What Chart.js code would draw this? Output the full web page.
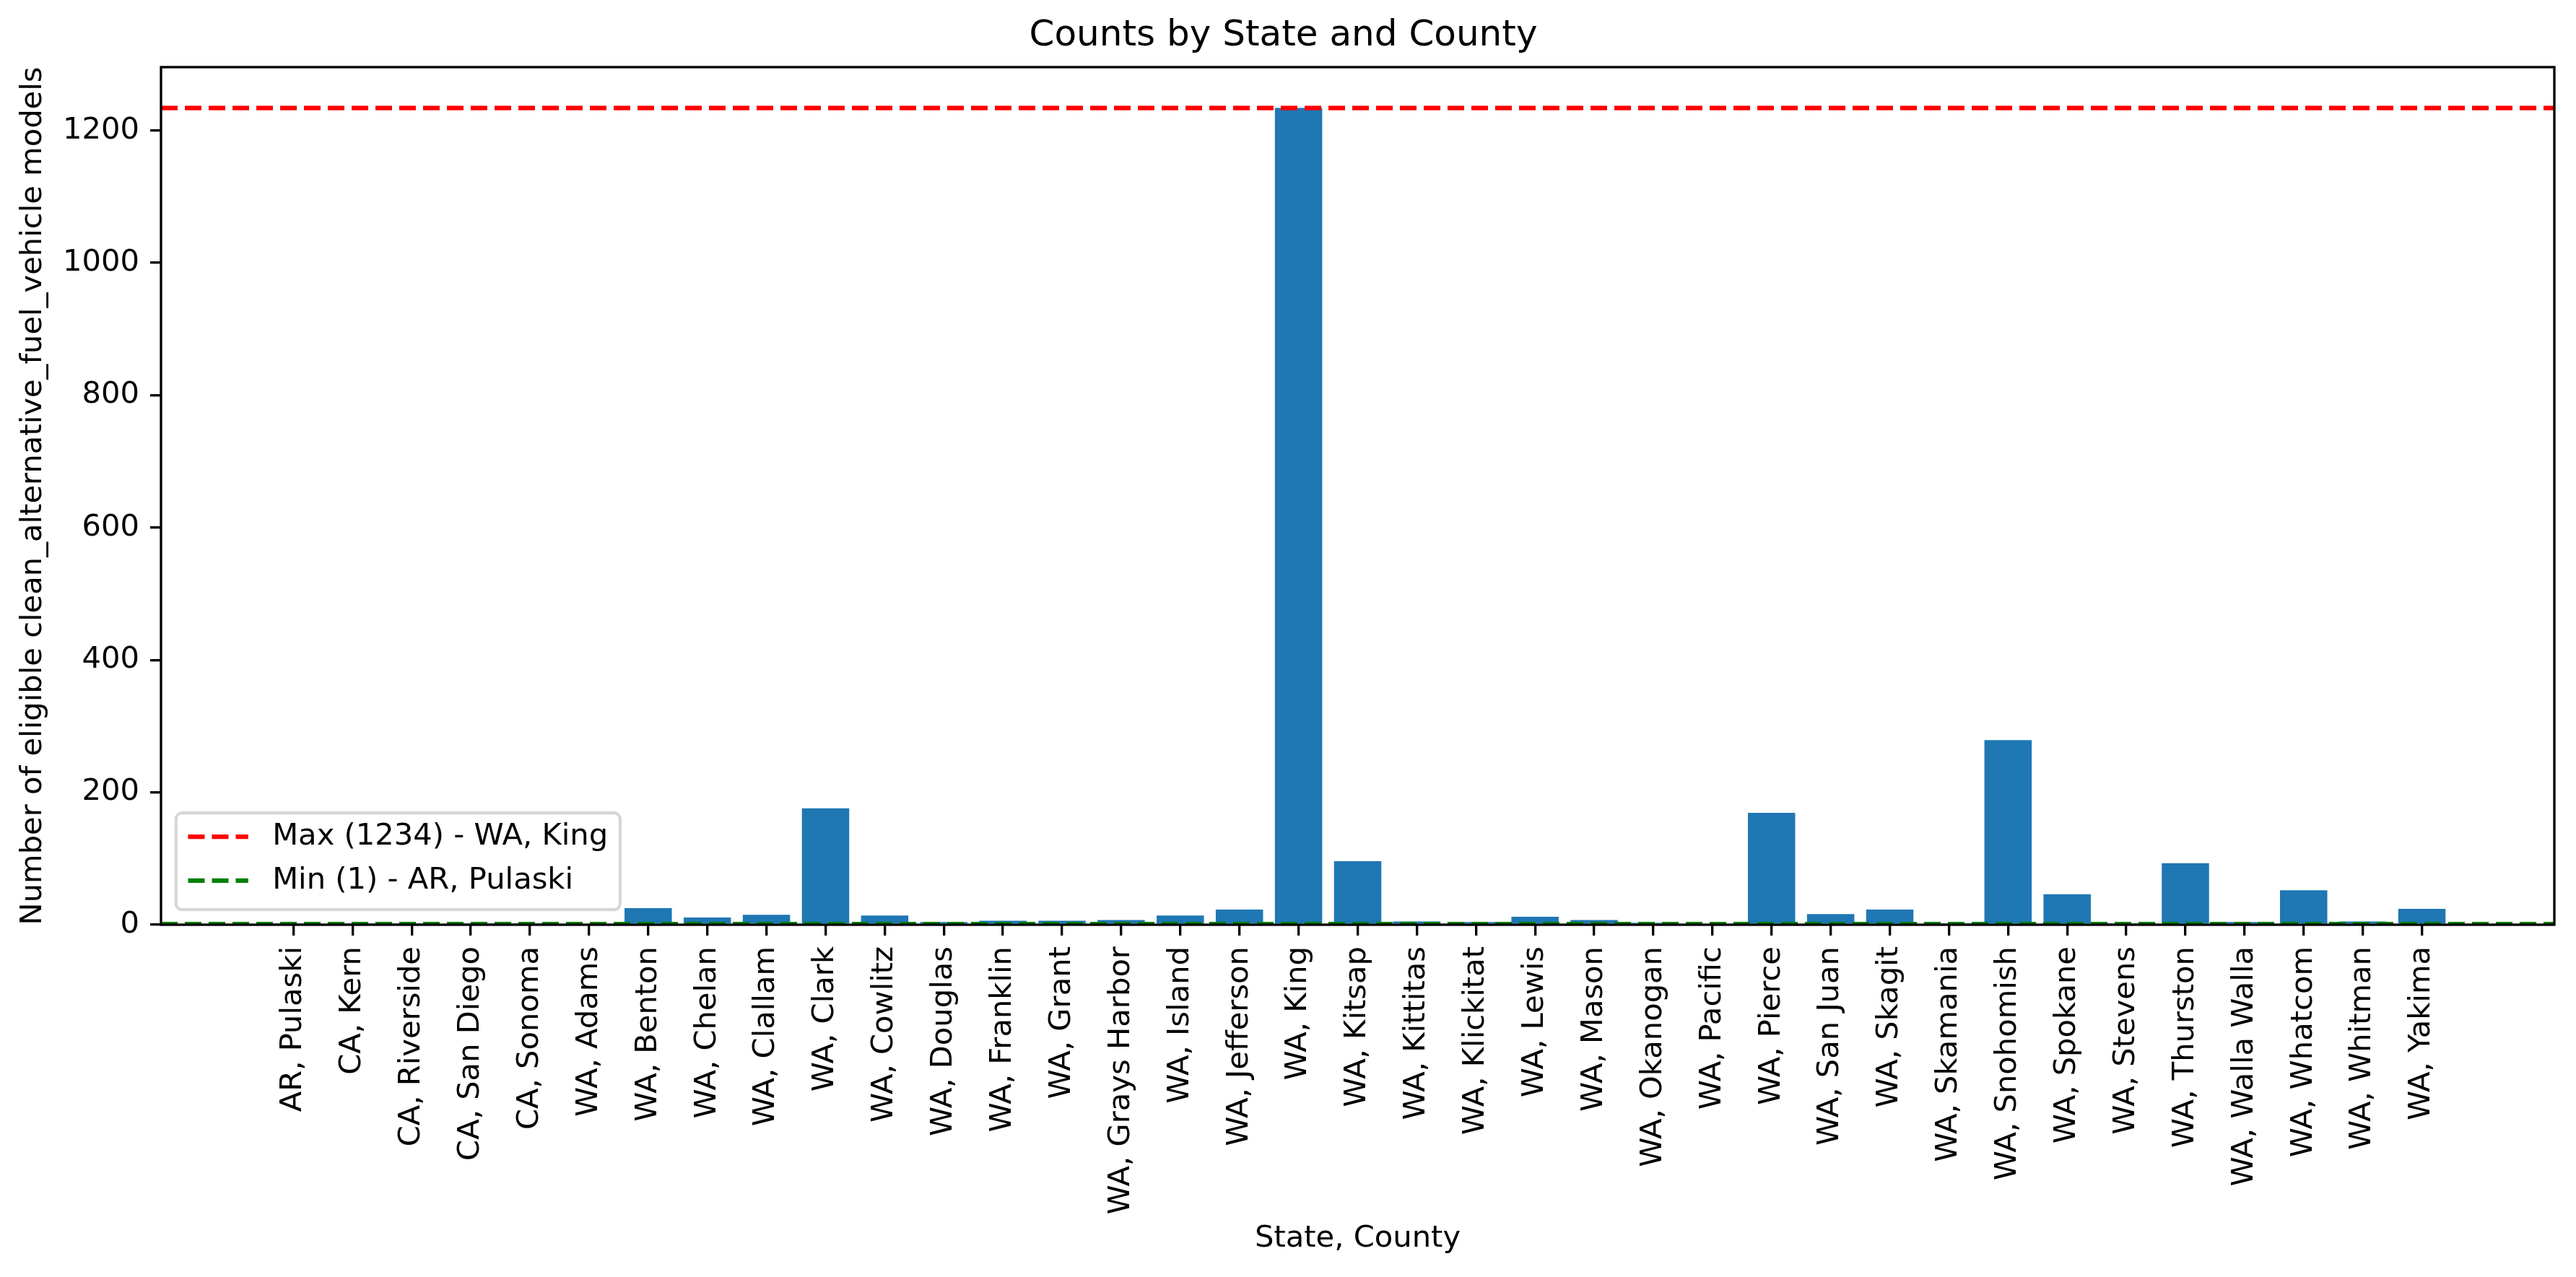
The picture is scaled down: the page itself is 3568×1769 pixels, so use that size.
<!DOCTYPE html>
<html>
<head>
<meta charset="utf-8">
<title>Counts by State and County</title>
<script src="https://cdn.jsdelivr.net/npm/chart.js@4.4.1/dist/chart.umd.min.js"></script>
<style>
  html, body { margin: 0; padding: 0; background: #fff; }
</style>
</head>
<body>
<canvas id="chart" width="3568" height="1769"></canvas>
<script>
// data
const counties = [
  "AR, Pulaski", "CA, Kern", "CA, Riverside", "CA, San Diego", "CA, Sonoma",
  "WA, Adams", "WA, Benton", "WA, Chelan", "WA, Clallam", "WA, Clark",
  "WA, Cowlitz", "WA, Douglas", "WA, Franklin", "WA, Grant", "WA, Grays Harbor",
  "WA, Island", "WA, Jefferson", "WA, King", "WA, Kitsap", "WA, Kittitas",
  "WA, Klickitat", "WA, Lewis", "WA, Mason", "WA, Okanogan", "WA, Pacific",
  "WA, Pierce", "WA, San Juan", "WA, Skagit", "WA, Skamania", "WA, Snohomish",
  "WA, Spokane", "WA, Stevens", "WA, Thurston", "WA, Walla Walla", "WA, Whatcom",
  "WA, Whitman", "WA, Yakima"
];
const counts = [
  1, 1, 1, 1, 1,
  2, 25, 11, 15, 176,
  14, 4, 6, 6, 7,
  14, 23, 1234, 96, 5,
  4, 12, 7, 3, 2,
  169, 16, 23, 1, 279,
  46, 1, 93, 4, 52,
  5, 24
];
const yTicks = [0, 200, 400, 600, 800, 1000, 1200];

const titleText = "Counts by State and County";
const xTitle = "State, County";
const yTitle = "Number of eligible clean_alternative_fuel_vehicle models";

const FONT = "'DejaVu Sans', sans-serif";
const PT = 300 / 72; // figure was saved at 300 dpi

const maxVal = Math.max(...counts);
const minVal = Math.min(...counts);
const maxIdx = counts.indexOf(maxVal);
const minIdx = counts.indexOf(minVal);

// matplotlib-like limits: 5% margin around bars of width 0.8
const barW = 0.8;
const span = counts.length - 1 + barW;
const xMin = -barW / 2 - 0.05 * span;
const xMax = counts.length - 1 + barW / 2 + 0.05 * span;
const yMax = maxVal * 1.05;

const frame = {
  id: "frame",
  afterDatasetsDraw(chart) {
    const { ctx, chartArea: a } = chart;
    ctx.save();
    ctx.strokeStyle = "#000";
    ctx.lineWidth = 0.8 * PT;
    ctx.strokeRect(a.left, a.top, a.right - a.left, a.bottom - a.top);
    ctx.restore();
  }
};

const legendBox = {
  id: "legendBox",
  afterDraw(chart) {
    const { ctx, chartArea: a } = chart;
    const items = chart.data.datasets.filter((d) => d.inLegend);
    const fs = 10 * PT;
    const pad = 0.4 * fs, handle = 2 * fs, gap = 0.8 * fs, rowH = 60.7;
    ctx.save();
    ctx.font = `${fs}px ${FONT}`;
    const textW = Math.max(...items.map((d) => ctx.measureText(d.label).width));
    const w = pad * 2 + handle + gap + textW;
    const h = 134;
    const x = a.left + 0.5 * fs;
    const y = a.bottom - 0.5 * fs - h;
    ctx.beginPath();
    ctx.roundRect(x, y, w, h, 0.2 * fs);
    ctx.fillStyle = "rgba(255,255,255,0.8)";
    ctx.fill();
    ctx.lineWidth = 1 * PT;
    ctx.strokeStyle = "rgba(204,204,204,0.8)";
    ctx.stroke();
    items.forEach((d, i) => {
      const cy = y + 33 + i * rowH;
      ctx.beginPath();
      ctx.setLineDash(d.borderDash);
      ctx.lineWidth = d.borderWidth;
      ctx.strokeStyle = d.borderColor;
      ctx.moveTo(x + pad, cy);
      ctx.lineTo(x + pad + handle, cy);
      ctx.stroke();
      ctx.setLineDash([]);
      ctx.fillStyle = "#000";
      ctx.textBaseline = "middle";
      ctx.textAlign = "left";
      ctx.fillText(d.label, x + pad + handle + gap, cy);
    });
    ctx.restore();
  }
};

new Chart(document.getElementById("chart"), {
  type: "bar",
  data: {
    datasets: [
      {
        type: "line",
        label: `Max (${maxVal}) - ${counties[maxIdx]}`,
        data: [{ x: xMin, y: maxVal }, { x: xMax, y: maxVal }],
        borderColor: "#ff0000",
        borderWidth: 1.5 * PT,
        borderDash: [23, 10],
        pointRadius: 0,
        inLegend: true,
        order: 0
      },
      {
        type: "line",
        label: `Min (${minVal}) - ${counties[minIdx]}`,
        data: [{ x: xMin, y: minVal }, { x: xMax, y: minVal }],
        borderColor: "#008000",
        borderWidth: 1.5 * PT,
        borderDash: [23, 10],
        pointRadius: 0,
        inLegend: true,
        order: 0
      },
      {
        label: "Counts",
        data: counts.map((v, i) => ({ x: i, y: v })),
        backgroundColor: "#1f77b4",
        borderWidth: 0,
        barPercentage: barW,
        categoryPercentage: 1,
        order: 1
      }
    ]
  },
  options: {
    responsive: false,
    animation: false,
    devicePixelRatio: 1,
    layout: { padding: { left: 17, right: 30, top: 0, bottom: 24 } },
    plugins: {
      legend: { display: false },
      tooltip: { enabled: false },
      title: {
        display: true,
        text: titleText,
        color: "#000",
        font: { family: FONT, size: 12 * PT, weight: "normal" },
        padding: { top: 20, bottom: 13 }
      }
    },
    scales: {
      x: {
        type: "linear",
        min: xMin,
        max: xMax,
        offset: false,
        afterBuildTicks: (s) => {
          s.ticks = counties.map((_, i) => ({ value: i }));
        },
        afterFit: (s) => {
          s.height = 464;
        },
        ticks: {
          autoSkip: false,
          minRotation: 90,
          maxRotation: 90,
          padding: 15,
          color: "#000",
          font: { family: FONT, size: 10 * PT },
          callback: (v) => counties[v]
        },
        grid: {
          offset: false,
          drawOnChartArea: false,
          drawTicks: true,
          tickLength: 15,
          lineWidth: 0.8 * PT,
          color: "#000"
        },
        border: { display: false },
        title: {
          display: true,
          text: xTitle,
          color: "#000",
          font: { family: FONT, size: 10 * PT },
          padding: { top: 4, bottom: 4 }
        }
      },
      y: {
        min: 0,
        max: yMax,
        afterBuildTicks: (s) => {
          s.ticks = yTicks.map((v) => ({ value: v }));
        },
        afterFit: (s) => {
          s.width = 206;
        },
        ticks: {
          padding: 15,
          color: "#000",
          font: { family: FONT, size: 10 * PT },
          callback: (v) => String(v)
        },
        grid: {
          drawOnChartArea: false,
          drawTicks: true,
          tickLength: 15,
          lineWidth: 0.8 * PT,
          color: "#000"
        },
        border: { display: false },
        title: {
          display: true,
          text: yTitle,
          color: "#000",
          font: { family: FONT, size: 10 * PT },
          padding: { top: 4, bottom: 4 }
        }
      }
    }
  },
  plugins: [frame, legendBox]
});
</script>
</body>
</html>
